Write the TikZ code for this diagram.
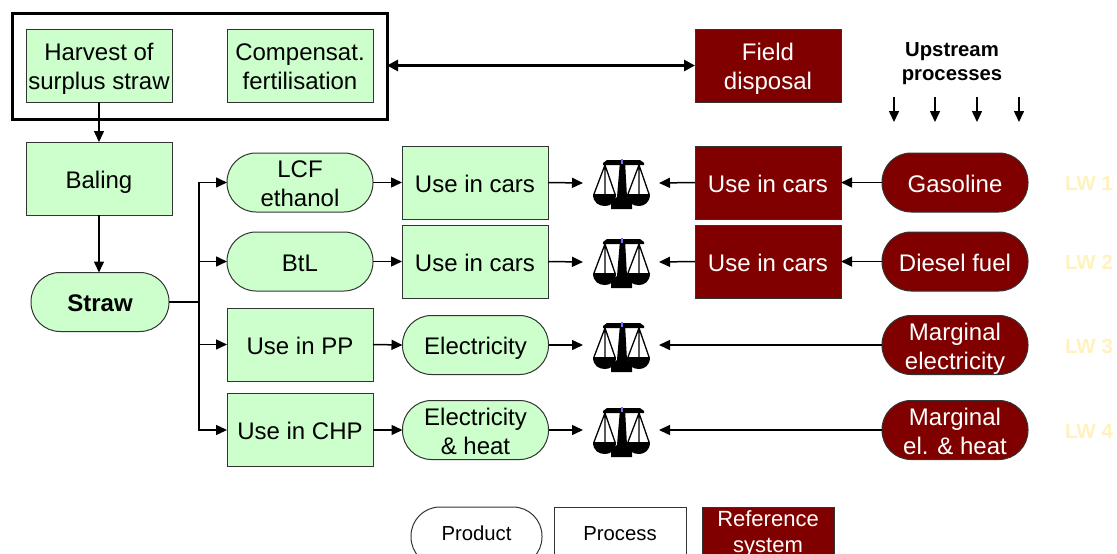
\documentclass[tikz,border=0pt]{standalone}
\usepackage{fontspec}
\setmainfont{Liberation Sans}
\usetikzlibrary{arrows.meta}
\definecolor{procgreen}{HTML}{CCFFCC}
\definecolor{refred}{HTML}{800000}
\definecolor{lwcol}{HTML}{FFF2BE}
\tikzset{
  x=1pt,y=-1pt,
  boxbase/.style={draw=black!80,line width=1pt,minimum width=146pt,inner sep=0pt,outer sep=0pt,align=center,font=\fontsize{24}{29}\selectfont,
    execute at begin node={\rule{0pt}{24pt}},execute at end node={\rule[-5pt]{0pt}{5pt}}},
  twoline/.style={execute at begin node={\rule{0pt}{53pt}}},
  procbox/.style={boxbase,rectangle,fill=procgreen,minimum height=73pt},
  prodpill/.style={boxbase,rectangle,rounded corners=29pt,fill=procgreen,minimum height=59pt},
  refbox/.style={procbox,fill=refred,text=white},
  refpill/.style={prodpill,fill=refred,text=white},
  lwlabel/.style={text=lwcol,font=\fontsize{20.5}{24}\selectfont\bfseries,inner sep=0pt},
  legendtext/.style={font=\fontsize{20.3}{26}\selectfont,align=center},
  arr/.style={-{Triangle[length=11pt,width=10pt]},line width=1.5pt,black},
  plainline/.style={line width=1.5pt,black},
  balancebox/.style={minimum width=76pt,minimum height=50pt,inner sep=0pt,outer sep=0pt},
  balance/.pic={
    \fill[black] (-18,-20) -- (-14,-23) -- (19,-23) -- (23,-20) -- (23,-18) -- (-18,-18) -- cycle;
    \fill[black] (-1,-22) -- (4,-22) -- (6,14) -- (11,19) -- (11,26) -- (-10,26) -- (-10,19) -- (-4,14) -- cycle;
    \fill[black] (-28,11) -- (-5,11) .. controls (-5,20) and (-11,23) .. (-16,23) .. controls (-22,23) and (-28,20) .. (-28,11) -- cycle;
    \fill[black] (6,11) -- (29,11) .. controls (29,20) and (23,23) .. (18,23) .. controls (12,23) and (6,20) .. (6,11) -- cycle;
    \draw[line width=1.3pt] (-16,-18) -- (-27,11) (-16,-18) -- (-6,11) (-16,-18) -- (-16,11);
    \draw[line width=1.3pt] (18,-18) -- (7,11) (18,-18) -- (28,11) (18,-18) -- (18,11);
    \fill[blue!55!white] (-0.5,-24) rectangle (2,-19.5);
  }
}
\begin{document}
\begin{tikzpicture}
\useasboundingbox (0,0) rectangle (1117,554);
\clip (0,0) rectangle (1117,554);
\node[draw=black,line width=3pt,minimum width=375pt,minimum height=106pt,inner sep=0pt,outer sep=0pt] (frame) at (199.5,66) {};
\node[procbox,twoline] (harvest) at (99,65.5) {Harvest of\\surplus straw};
\node[procbox,twoline] (comp) at (300,65.5) {Compensat.\\fertilisation};
\node[refbox,twoline] (field) at (768,65.5) {Field\\disposal};
\node[procbox] (baling) at (99,178.5) {Baling};
\node[prodpill,minimum width=138pt] (straw) at (100,302) {\bfseries Straw};
\coordinate (trunk) at (199,302);
\node[prodpill,twoline] (lcf) at (300,182.5) {LCF\\ethanol};
\node[prodpill] (btl) at (300,261.5) {BtL};
\node[procbox] (pp) at (300,344.5) {Use in PP};
\node[procbox] (chp) at (300,430) {Use in CHP};
\node[procbox] (car1) at (475,182.5) {Use in cars};
\node[procbox] (car2) at (475,261.5) {Use in cars};
\node[prodpill] (elec) at (475.5,345) {Electricity};
\node[prodpill,twoline] (elheat) at (475.5,430) {Electricity\\\& heat};
\node[balancebox] (s1) at (621,183) {};
\node[balancebox] (s2) at (621,262) {};
\node[balancebox] (s3) at (621,346) {};
\node[balancebox] (s4) at (621,431) {};
\pic at (s1) {balance};
\pic at (s2) {balance};
\pic at (s3) {balance};
\pic at (s4) {balance};
\node[refbox] (rcar1) at (768,182.5) {Use in cars};
\node[refbox] (rcar2) at (768,261.5) {Use in cars};
\node[refpill] (gas) at (955,182.5) {Gasoline};
\node[refpill] (diesel) at (955,261.5) {Diesel fuel};
\node[refpill,twoline] (mel) at (955,345) {Marginal\\electricity};
\node[refpill,twoline] (mheat) at (955,430) {Marginal\\el. \& heat};
\node[lwlabel] (lw1) at (1089,183.5) {LW 1};
\node[lwlabel] (lw2) at (1089,262.5) {LW 2};
\node[lwlabel] (lw3) at (1089,346.5) {LW 3};
\node[lwlabel] (lw4) at (1089,431.5) {LW 4};
\node[font=\fontsize{20.3}{24}\selectfont\bfseries,align=center,inner sep=0pt] (up) at (952,63.5) {Upstream\\processes};
\coordinate (u1a) at (894,97); \coordinate (u1b) at (894,122);
\coordinate (u2a) at (935,97); \coordinate (u2b) at (935,122);
\coordinate (u3a) at (977,97); \coordinate (u3b) at (977,122);
\coordinate (u4a) at (1019,97); \coordinate (u4b) at (1019,122);
\draw[arr] (u1a) -- (u1b);
\draw[arr] (u2a) -- (u2b);
\draw[arr] (u3a) -- (u3b);
\draw[arr] (u4a) -- (u4b);
% connectors
\draw[{Triangle[length=11pt,width=11pt]}-{Triangle[length=11pt,width=11pt]},line width=3pt] (frame.east |- field.west) -- (field.west);
\draw[arr] (harvest.south) -- (baling.north);
\draw[arr] (baling.south) -- (baling.south |- straw.north);
\draw[plainline] (straw.east) -- (trunk);
\draw[arr] (trunk) |- (lcf.west);
\draw[arr] (trunk) |- (btl.west);
\draw[arr] (trunk) |- (pp.west);
\draw[arr] (trunk) |- (chp.west);
\draw[arr] (lcf.east) -- (car1.west);
\draw[arr] (btl.east) -- (car2.west);
\draw[arr] (pp.east) -- (elec.west);
\draw[arr] (chp.east) -- (elheat.west);
\draw[arr] (car1.east) -- (s1.west);
\draw[arr] (car2.east) -- (s2.west);
\draw[arr] (elec.east) -- (s3.west |- elec.east);
\draw[arr] (elheat.east) -- (s4.west |- elheat.east);
\draw[arr] (rcar1.west) -- (s1.east);
\draw[arr] (rcar2.west) -- (s2.east);
\draw[arr] (mel.west) -- (s3.east |- mel.west);
\draw[arr] (mheat.west) -- (s4.east |- mheat.west);
\draw[arr] (gas.west) -- (rcar1.east);
\draw[arr] (diesel.west) -- (rcar2.east);
% legend
\node[prodpill,fill=white,minimum width=131pt] (lprod) at (476.5,536.5) {};
\node[legendtext,inner sep=0pt] (lprodt) at (476.5,533.5) {Product};
\node[procbox,fill=white,minimum width=132pt] (lproc) at (620,543.5) {};
\node[legendtext,inner sep=0pt] (lproct) at (620,533.5) {Process};
\node[refbox,minimum width=132pt] (lref) at (768,543.5) {};
\node[font=\fontsize{22}{26}\selectfont,align=center,inner sep=0pt,text=white] (lreft) at (768,534) {Reference\\system};
\end{tikzpicture}
\end{document}
